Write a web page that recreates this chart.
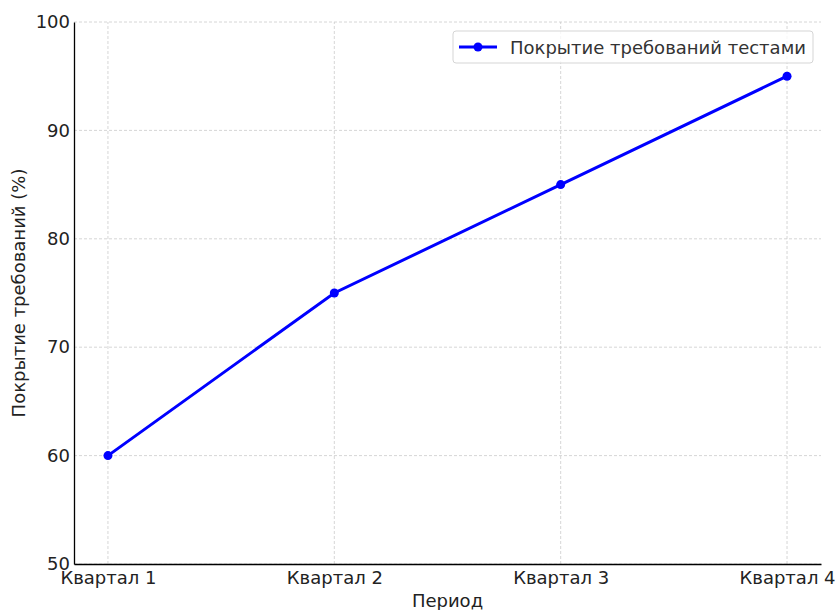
<!DOCTYPE html>
<html>
<head>
<meta charset="utf-8">
<script src="https://cdn.jsdelivr.net/npm/d3@7"></script>
<style>
  body { margin: 0; background: #fff; }
  text { font-family: "DejaVu Sans", sans-serif; }
</style>
</head>
<body>
<div class="lineChart"></div>
<script>
const quarters = ["Квартал 1", "Квартал 2", "Квартал 3", "Квартал 4"];
const coverage = [60, 75, 85, 95];
const yTicks = [50, 60, 70, 80, 90, 100];
const seriesName = "Покрытие требований тестами";

const width = 836;
const height = 610;
const margin = { top: 22, right: 15, bottom: 46, left: 74 };
const fontSize = 18;

const svg = d3
  .select(".lineChart")
  .append("svg")
  .attr("width", width)
  .attr("height", height);

// matplotlib-like 5% padding on the category axis
const x = d3
  .scaleLinear()
  .domain([-0.15, quarters.length - 1 + 0.15])
  .range([margin.left, width - margin.right]);

const y = d3
  .scaleLinear()
  .domain([50, 100])
  .range([height - margin.bottom, margin.top]);

// grid
const grid = svg
  .append("g")
  .attr("stroke", "#cccccc")
  .attr("stroke-width", 0.8)
  .attr("stroke-dasharray", "3,2");

grid
  .selectAll(".vgrid")
  .data(quarters)
  .join("line")
  .attr("x1", (d, i) => x(i))
  .attr("x2", (d, i) => x(i))
  .attr("y1", y(50))
  .attr("y2", y(100));

grid
  .selectAll(".hgrid")
  .data(yTicks)
  .join("line")
  .attr("x1", x.range()[0])
  .attr("x2", x.range()[1])
  .attr("y1", (d) => y(d))
  .attr("y2", (d) => y(d));

// axes
const xAxis = d3
  .axisBottom(x)
  .tickValues(d3.range(quarters.length))
  .tickFormat((i) => quarters[i])
  .tickSize(0)
  .tickPadding(7)
  .tickSizeOuter(0);

const yAxis = d3
  .axisLeft(y)
  .tickValues(yTicks)
  .tickSize(0)
  .tickPadding(4)
  .tickSizeOuter(0);

svg
  .append("g")
  .attr("transform", `translate(0,${y(50)})`)
  .call(xAxis)
  .call((g) => g.select(".domain").attr("stroke", "#000").attr("stroke-width", 1.3))
  .call((g) =>
    g.selectAll("text").attr("font-size", fontSize).attr("fill", "#222").attr("font-family", "DejaVu Sans")
  );

svg
  .append("g")
  .attr("transform", `translate(${x.range()[0]},0)`)
  .call(yAxis)
  .call((g) => g.select(".domain").attr("stroke", "#000").attr("stroke-width", 1.3))
  .call((g) =>
    g.selectAll("text").attr("font-size", fontSize).attr("fill", "#222").attr("font-family", "DejaVu Sans")
  );

// axis labels
svg
  .append("text")
  .attr("x", (x.range()[0] + x.range()[1]) / 2)
  .attr("y", 607)
  .attr("text-anchor", "middle")
  .attr("font-size", fontSize)
  .attr("fill", "#222")
  .text("Период");

svg
  .append("text")
  .attr("transform", `translate(25,${(y(50) + y(100)) / 2}) rotate(-90)`)
  .attr("text-anchor", "middle")
  .attr("font-size", fontSize)
  .attr("fill", "#222")
  .text("Покрытие требований (%)");

// line
const line = d3
  .line()
  .x((d, i) => x(i))
  .y((d) => y(d));

svg
  .append("path")
  .datum(coverage)
  .attr("fill", "none")
  .attr("stroke", "#0000ff")
  .attr("stroke-width", 3)
  .attr("d", line);

svg
  .append("g")
  .selectAll("circle")
  .data(coverage)
  .join("circle")
  .attr("cx", (d, i) => x(i))
  .attr("cy", (d) => y(d))
  .attr("r", 4.5)
  .attr("fill", "#0000ff");

// legend
const legend = svg.append("g").attr("transform", "translate(453,31)");
legend
  .append("rect")
  .attr("width", 360)
  .attr("height", 32)
  .attr("rx", 3)
  .attr("fill", "#fff")
  .attr("fill-opacity", 0.8)
  .attr("stroke", "#d5d5d5");
legend
  .append("line")
  .attr("x1", 6)
  .attr("x2", 44)
  .attr("y1", 16)
  .attr("y2", 16)
  .attr("stroke", "#0000ff")
  .attr("stroke-width", 3);
legend
  .append("circle")
  .attr("cx", 25)
  .attr("cy", 16)
  .attr("r", 4.5)
  .attr("fill", "#0000ff");
legend
  .append("text")
  .attr("x", 57)
  .attr("y", 22.5)
  .attr("font-size", fontSize)
  .attr("fill", "#333")
  .text(seriesName);
</script>
</body>
</html>
